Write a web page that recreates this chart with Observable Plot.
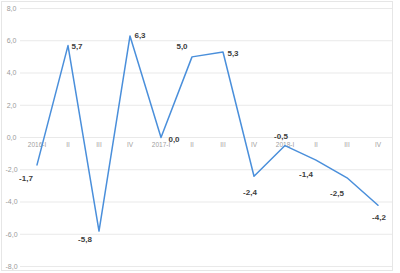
<!DOCTYPE html>
<html>
<head>
<meta charset="utf-8">
<script src="https://cdn.jsdelivr.net/npm/d3@7"></script>
<script src="https://cdn.jsdelivr.net/npm/@observablehq/plot@0.6"></script>
<style>
  html, body { margin: 0; padding: 0; background: #fff; }
  #wrap { position: relative; width: 400px; height: 273px; }
  #frame { position: absolute; left: 1px; top: 1px; width: 392px; height: 270px; border: 1px solid #e6e6e6; box-sizing: border-box; pointer-events: none; }
</style>
</head>
<body>
<div id="wrap"><div id="frame"></div></div>
<script>
const categories = ["2016-I", "II", "III", "IV", "2017-I", "II", "III", "IV", "2018-I", "II", "III", "IV"];
const values = [-1.7, 5.7, -5.8, 6.3, 0.0, 5.0, 5.3, -2.4, -0.5, -1.4, -2.5, -4.2];
const yTicks = [-8, -6, -4, -2, 0, 2, 4, 6, 8];

const keys = categories.map((c, i) => i);
const data = values.map((v, i) => ({key: i, label: categories[i], value: v}));

// label placement offsets (dx, dy) per point, in pixels
const place = [[-11, 14], [9, 1], [-14, 8], [10, 0], [13, 2], [-10, -10], [10, 1], [-4, 16], [-4, -9], [-10, 14], [-10, 16], [1, 12]];

const fmt = v => v.toFixed(1).replace(".", ",");

const chart = Plot.plot({
  width: 400,
  height: 273,
  marginLeft: 20,
  marginRight: 7,
  marginTop: 8,
  marginBottom: 7,
  style: {fontFamily: "Liberation Sans, Arial, sans-serif", background: "transparent"},
  x: {type: "band", domain: keys, padding: 0, axis: null},
  y: {domain: [-8, 8], axis: null},
  marks: [
    Plot.ruleY(yTicks, {stroke: "#e9e9e9", strokeWidth: 1}),
    Plot.axisY(yTicks, {anchor: "left", label: null, tickSize: 0, tickPadding: 9, textAnchor: "middle", tickFormat: fmt, fill: "#9a9a9a", fontSize: 7}),
    Plot.text(data, {x: "key", y: () => 0, text: "label", dy: 7, fill: "#a0a0a0", fontSize: 6.5}),
    Plot.line(data, {x: "key", y: "value", stroke: "#4a8fdb", strokeWidth: 1.5}),
    ...data.map((d, i) => Plot.text([d], {
      x: "key", y: "value", text: e => fmt(e.value),
      dx: place[i][0], dy: place[i][1],
      fill: "#3d3d3d", fontWeight: "bold", fontSize: 8
    }))
  ]
});
document.getElementById("wrap").prepend(chart);
</script>
</body>
</html>
